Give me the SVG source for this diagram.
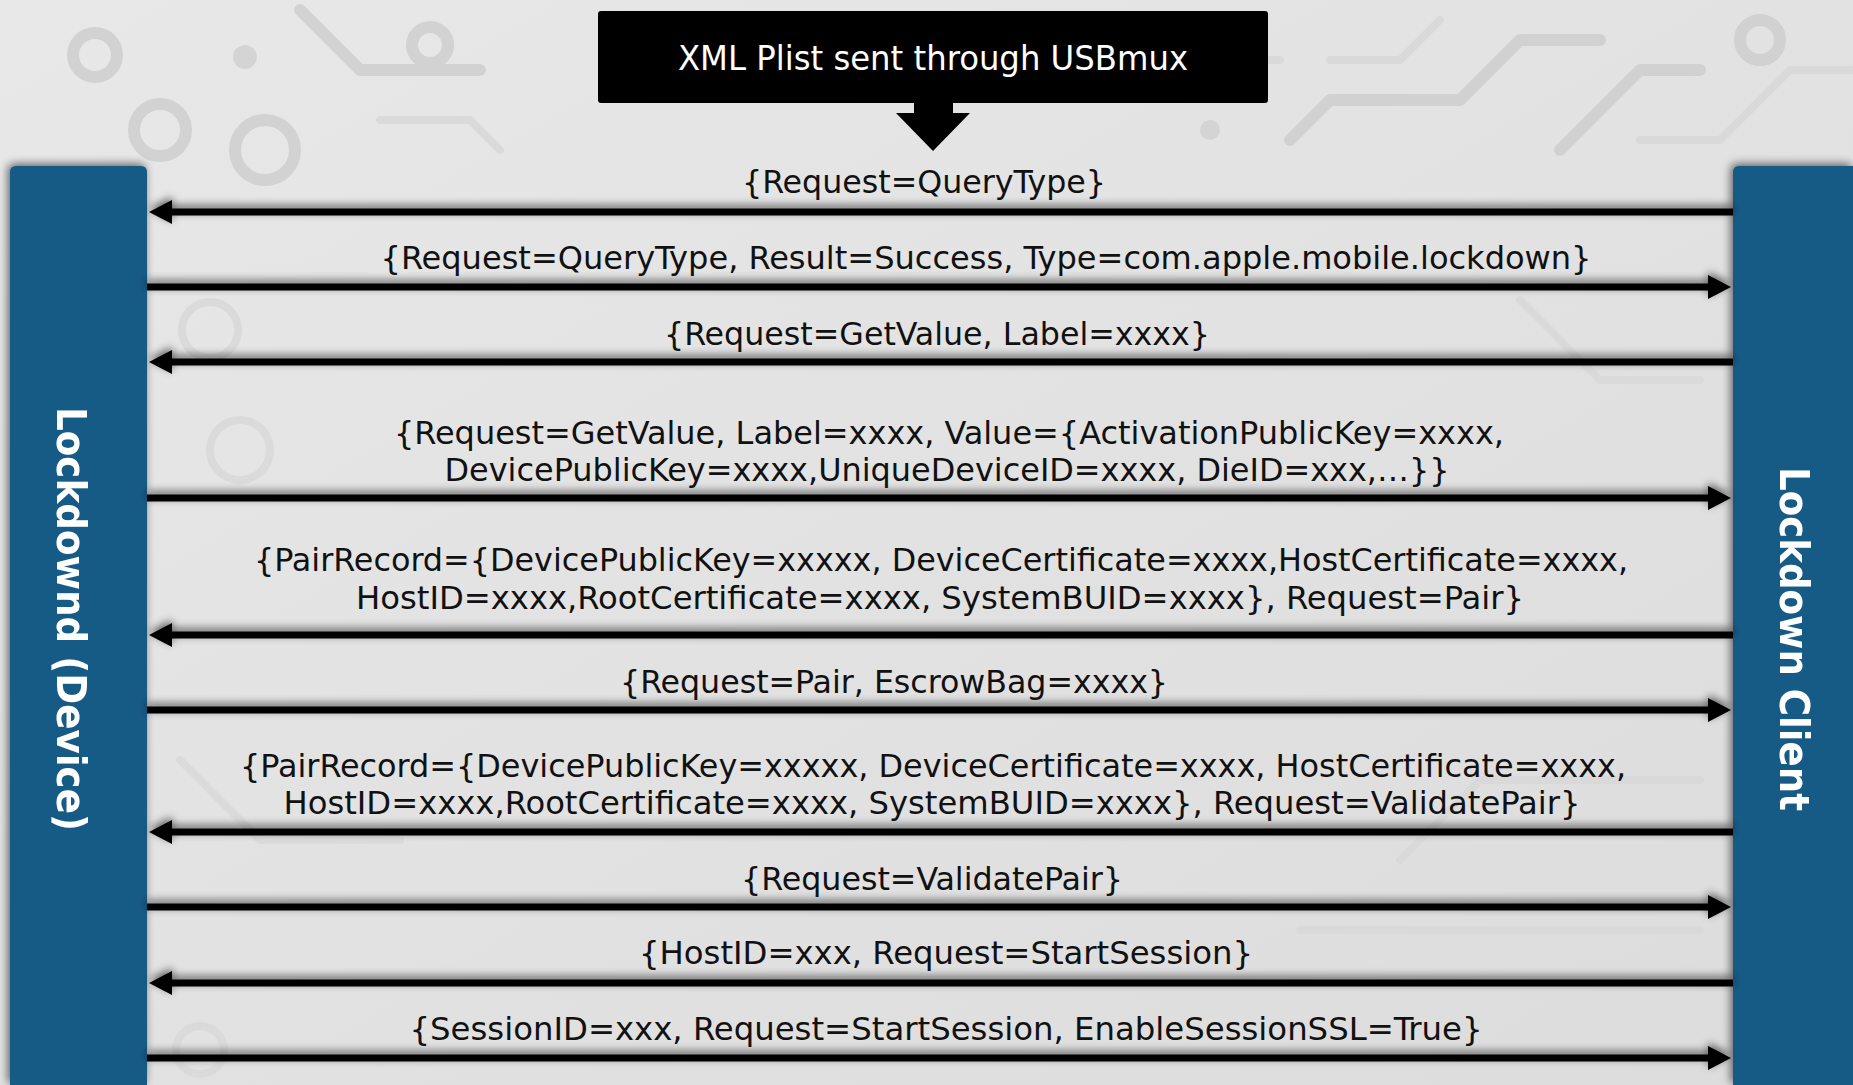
<svg xmlns="http://www.w3.org/2000/svg" width="1853" height="1085" viewBox="0 0 1853 1085">
  <defs>
    <style>
      .lbl { font-family: "DejaVu Sans Condensed", "DejaVu Sans", sans-serif; font-stretch: condensed; font-size: 32px; fill: #111111; text-anchor: middle; }
      .side { font-family: "DejaVu Sans Condensed", "DejaVu Sans", sans-serif; font-stretch: condensed; font-weight: bold; font-size: 40px; fill: #ffffff; text-anchor: middle; }
      .title { font-family: "DejaVu Sans Condensed", "DejaVu Sans", sans-serif; font-stretch: condensed; font-size: 33px; fill: #ffffff; text-anchor: middle; }
      .bar { fill: #165a86; }
      .msg { stroke: #000000; stroke-width: 7; fill: none; marker-end: url(#head); }
      .pcb { fill: none; stroke: #d0d0d0; stroke-width: 12; stroke-linecap: round; stroke-linejoin: round; }
      .pcb2 { fill: none; stroke: #d9d9d9; stroke-width: 8; stroke-linecap: round; stroke-linejoin: round; }
      .pad { fill: #d3d3d3; }
    </style>
    <marker id="head" markerUnits="userSpaceOnUse" markerWidth="24" markerHeight="24" refX="1" refY="12" orient="auto" viewBox="0 0 24 24">
      <path d="M0,0 L23,12 L0,24 Z" fill="#000000"/>
    </marker>
    <filter id="shadow" x="-5%" y="-50%" width="110%" height="200%">
      <feGaussianBlur in="SourceAlpha" stdDeviation="4"/>
      <feOffset dx="0" dy="-3" result="b"/>
      <feComponentTransfer><feFuncA type="linear" slope="0.6"/></feComponentTransfer>
      <feMerge><feMergeNode/><feMergeNode in="SourceGraphic"/></feMerge>
    </filter>
    <filter id="barshadow" x="-20%" y="-10%" width="140%" height="120%">
      <feGaussianBlur in="SourceAlpha" stdDeviation="5"/>
      <feOffset dx="-2" dy="-2" result="b"/>
      <feComponentTransfer><feFuncA type="linear" slope="0.6"/></feComponentTransfer>
      <feMerge><feMergeNode/><feMergeNode in="SourceGraphic"/></feMerge>
    </filter>
    <linearGradient id="bg" x1="0" y1="0" x2="1" y2="1">
      <stop offset="0" stop-color="#e8e8e8"/>
      <stop offset="1" stop-color="#dcdcdc"/>
    </linearGradient>
  </defs>

  <!-- background -->
  <rect x="0" y="0" width="1853" height="1085" fill="url(#bg)"/>
  <g id="pcb-background" opacity="0.9">
    <circle class="pcb" cx="95" cy="55" r="22"/>
    <circle class="pad" cx="245" cy="57" r="12"/>
    <circle class="pcb" cx="160" cy="130" r="26"/>
    <circle class="pcb" cx="265" cy="150" r="30"/>
    <path class="pcb" d="M300,10 L360,70 L480,70"/>
    <path class="pcb2" d="M380,120 L470,120 L500,150"/>
    <circle class="pcb" cx="430" cy="45" r="18"/>
    <path class="pcb" d="M1290,140 L1330,100 L1460,100 L1520,40 L1600,40"/>
    <path class="pcb2" d="M1330,60 L1400,60 L1440,20"/>
    <path class="pcb" d="M1560,150 L1640,70 L1700,70"/>
    <circle class="pcb" cx="1760" cy="40" r="20"/>
    <path class="pcb2" d="M1640,140 L1720,140 L1790,70 L1853,70"/>
    <path class="pcb2" d="M1110,20 L1160,20 L1200,60 L1280,60"/>
    <circle class="pad" cx="1210" cy="130" r="10"/>
    <circle class="pcb2" cx="210" cy="330" r="28"/>
    <circle class="pcb2" cx="240" cy="450" r="30"/>
    <path class="pcb2" d="M1520,300 L1600,380 L1700,380"/>
    <path class="pcb2" d="M1400,860 L1480,780 L1700,780"/>
    <path class="pcb2" d="M180,760 L260,840 L400,840"/>
    <circle class="pcb2" cx="200" cy="1050" r="24"/>
    <path class="pcb2" d="M1300,930 L1700,930"/>
  </g>

  <!-- nodes -->
  <g id="node-device" filter="url(#barshadow)">
    <path class="bar" d="M10,172 Q10,166 16,166 L141,166 Q147,166 147,172 L147,1085 L10,1085 Z"/>
    <text class="side" transform="translate(57,619) rotate(90)" textLength="424" lengthAdjust="spacingAndGlyphs">Lockdownd (Device)</text>
  </g>
  <g id="node-client" filter="url(#barshadow)">
    <path class="bar" d="M1733,172 Q1733,166 1739,166 L1853,166 L1853,1085 L1733,1085 Z"/>
    <text class="side" transform="translate(1780,639) rotate(90)" textLength="344" lengthAdjust="spacingAndGlyphs">Lockdown Client</text>
  </g>
  <g id="node-usbmux">
    <rect x="598" y="11" width="670" height="92" rx="3" fill="#000000"/>
    <path d="M914,102 L953,102 L953,113 L970,113 L933,151 L896,113 L914,113 Z" fill="#000000"/>
    <text class="title" x="933" y="70" textLength="510" lengthAdjust="spacingAndGlyphs">XML Plist sent through USBmux</text>
  </g>

  <!-- connectors -->
  <g id="connectors" filter="url(#shadow)">
    <path id="c1" class="msg" d="M1733,212 L171,212"/>
    <path id="c2" class="msg" d="M147,287 L1709,287"/>
    <path id="c3" class="msg" d="M1733,362 L171,362"/>
    <path id="c4" class="msg" d="M147,498 L1709,498"/>
    <path id="c5" class="msg" d="M1733,635 L171,635"/>
    <path id="c6" class="msg" d="M147,710 L1709,710"/>
    <path id="c7" class="msg" d="M1733,832 L171,832"/>
    <path id="c8" class="msg" d="M147,907 L1709,907"/>
    <path id="c9" class="msg" d="M1733,983 L171,983"/>
    <path id="c10" class="msg" d="M147,1058 L1709,1058"/>
  </g>

  <!-- connector labels -->
  <g id="labels">
    <text class="lbl" x="924" y="193" textLength="364" lengthAdjust="spacingAndGlyphs">{Request=QueryType}</text>
    <text class="lbl" x="986" y="269" textLength="1211" lengthAdjust="spacingAndGlyphs">{Request=QueryType, Result=Success, Type=com.apple.mobile.lockdown}</text>
    <text class="lbl" x="937" y="345" textLength="546" lengthAdjust="spacingAndGlyphs">{Request=GetValue, Label=xxxx}</text>
    <text class="lbl" x="949" y="444" textLength="1110" lengthAdjust="spacingAndGlyphs">{Request=GetValue, Label=xxxx, Value={ActivationPublicKey=xxxx,</text>
    <text class="lbl" x="947" y="481" textLength="1005" lengthAdjust="spacingAndGlyphs">DevicePublicKey=xxxx,UniqueDeviceID=xxxx, DieID=xxx,…}}</text>
    <text class="lbl" x="941" y="571" textLength="1374" lengthAdjust="spacingAndGlyphs">{PairRecord={DevicePublicKey=xxxxx, DeviceCertificate=xxxx,HostCertificate=xxxx,</text>
    <text class="lbl" x="940" y="609" textLength="1168" lengthAdjust="spacingAndGlyphs">HostID=xxxx,RootCertificate=xxxx, SystemBUID=xxxx}, Request=Pair}</text>
    <text class="lbl" x="894" y="693" textLength="548" lengthAdjust="spacingAndGlyphs">{Request=Pair, EscrowBag=xxxx}</text>
    <text class="lbl" x="933" y="777" textLength="1386" lengthAdjust="spacingAndGlyphs">{PairRecord={DevicePublicKey=xxxxx, DeviceCertificate=xxxx, HostCertificate=xxxx,</text>
    <text class="lbl" x="932" y="814" textLength="1297" lengthAdjust="spacingAndGlyphs">HostID=xxxx,RootCertificate=xxxx, SystemBUID=xxxx}, Request=ValidatePair}</text>
    <text class="lbl" x="932" y="890" textLength="382" lengthAdjust="spacingAndGlyphs">{Request=ValidatePair}</text>
    <text class="lbl" x="946" y="964" textLength="614" lengthAdjust="spacingAndGlyphs">{HostID=xxx, Request=StartSession}</text>
    <text class="lbl" x="946" y="1040" textLength="1073" lengthAdjust="spacingAndGlyphs">{SessionID=xxx, Request=StartSession, EnableSessionSSL=True}</text>
  </g>
</svg>
